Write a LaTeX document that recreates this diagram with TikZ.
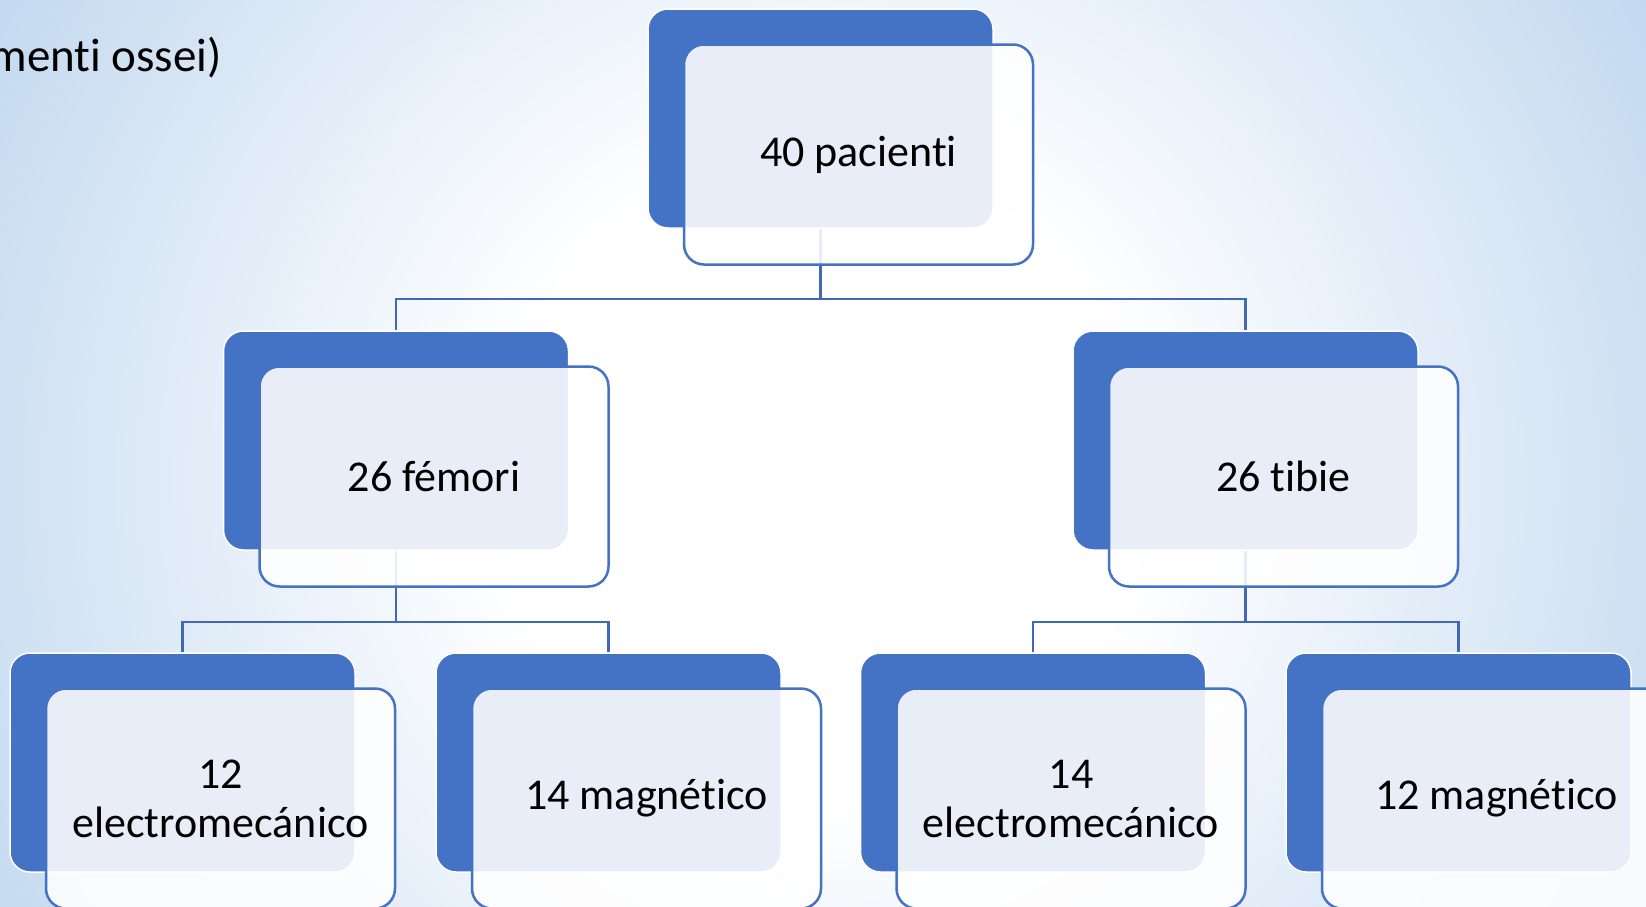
\documentclass[tikz,border=0pt]{standalone}
\usepackage{fontspec}
\setmainfont{Carlito}[Ligatures=NoCommon]
\definecolor{boxblue}{HTML}{4472C4}
\definecolor{linkblue}{HTML}{4068B5}
\definecolor{bgblue}{HTML}{BBD4EE}
\pgfdeclareradialshading{slidebg}{\pgfpoint{0bp}{0bp}}{color(0bp)=(white); color(8bp)=(white); color(26bp)=(bgblue); color(50bp)=(bgblue)}
\tikzset{
  back/.style={rectangle,rounded corners=20pt,fill=boxblue,draw=white,line width=1.5pt,
    minimum width=345pt,minimum height=219pt,inner sep=0pt},
  front/.style={rectangle,rounded corners=20pt,fill=white,fill opacity=.88,text opacity=1,
    draw=boxblue,line width=2.5pt,minimum width=349pt,minimum height=220pt,inner sep=0pt,
    align=center,font=\fontsize{44}{49}\selectfont},
  link/.style={draw=linkblue,line width=2.5pt}
}
\begin{document}
\begin{tikzpicture}[x=1pt,y=-1pt]
   \useasboundingbox (0,0) rectangle (1646,906);
   \clip (0,0) rectangle (1646,906);
   \shade[shading=slidebg] (-180,-520) rectangle (1820,1480);
   \node[anchor=base east,inner sep=0pt,font=\fontsize{47}{56}\selectfont] (title) at (222,71) {menti ossei)};

   \node[back] (a0) at (820.5,118.5) {};
   \node[back] (a1) at (396,440.5) {};
   \node[back] (a2) at (1245.5,440.5) {};
   \node[back] (a3) at (182.5,762.5) {};
   \node[back] (a4) at (608.5,762.5) {};
   \node[back] (a5) at (1033,762.5) {};
   \node[back] (a6) at (1458.5,762.5) {};

   \draw[link] (a0.south) -- ++(0,70) -| (a1.north);
   \draw[link] (a0.south) -- ++(0,70) -| (a2.north);
   \draw[link] (a1.south) -- ++(0,71) -| (a3.north);
   \draw[link] (a1.south) -- ++(0,71) -| (a4.north);
   \draw[link] (a2.south) -- ++(0,71) -| (a5.north);
   \draw[link] (a2.south) -- ++(0,71) -| (a6.north);

   \node[front] (t0) at ([shift={(38,36)}]a0) {40 pacienti};
   \node[front] (t1) at ([shift={(38,36)}]a1) {26 fémori};
   \node[front] (t2) at ([shift={(38,36)}]a2) {26 tibie};
   \node[front] (t3) at ([shift={(38,36)}]a3) {12\\electromecánico};
   \node[front] (t4) at ([shift={(38,36)}]a4) {14 magnético};
   \node[front] (t5) at ([shift={(38,36)}]a5) {14\\electromecánico};
   \node[front] (t6) at ([shift={(38,36)}]a6) {12 magnético};
\end{tikzpicture}
\end{document}
